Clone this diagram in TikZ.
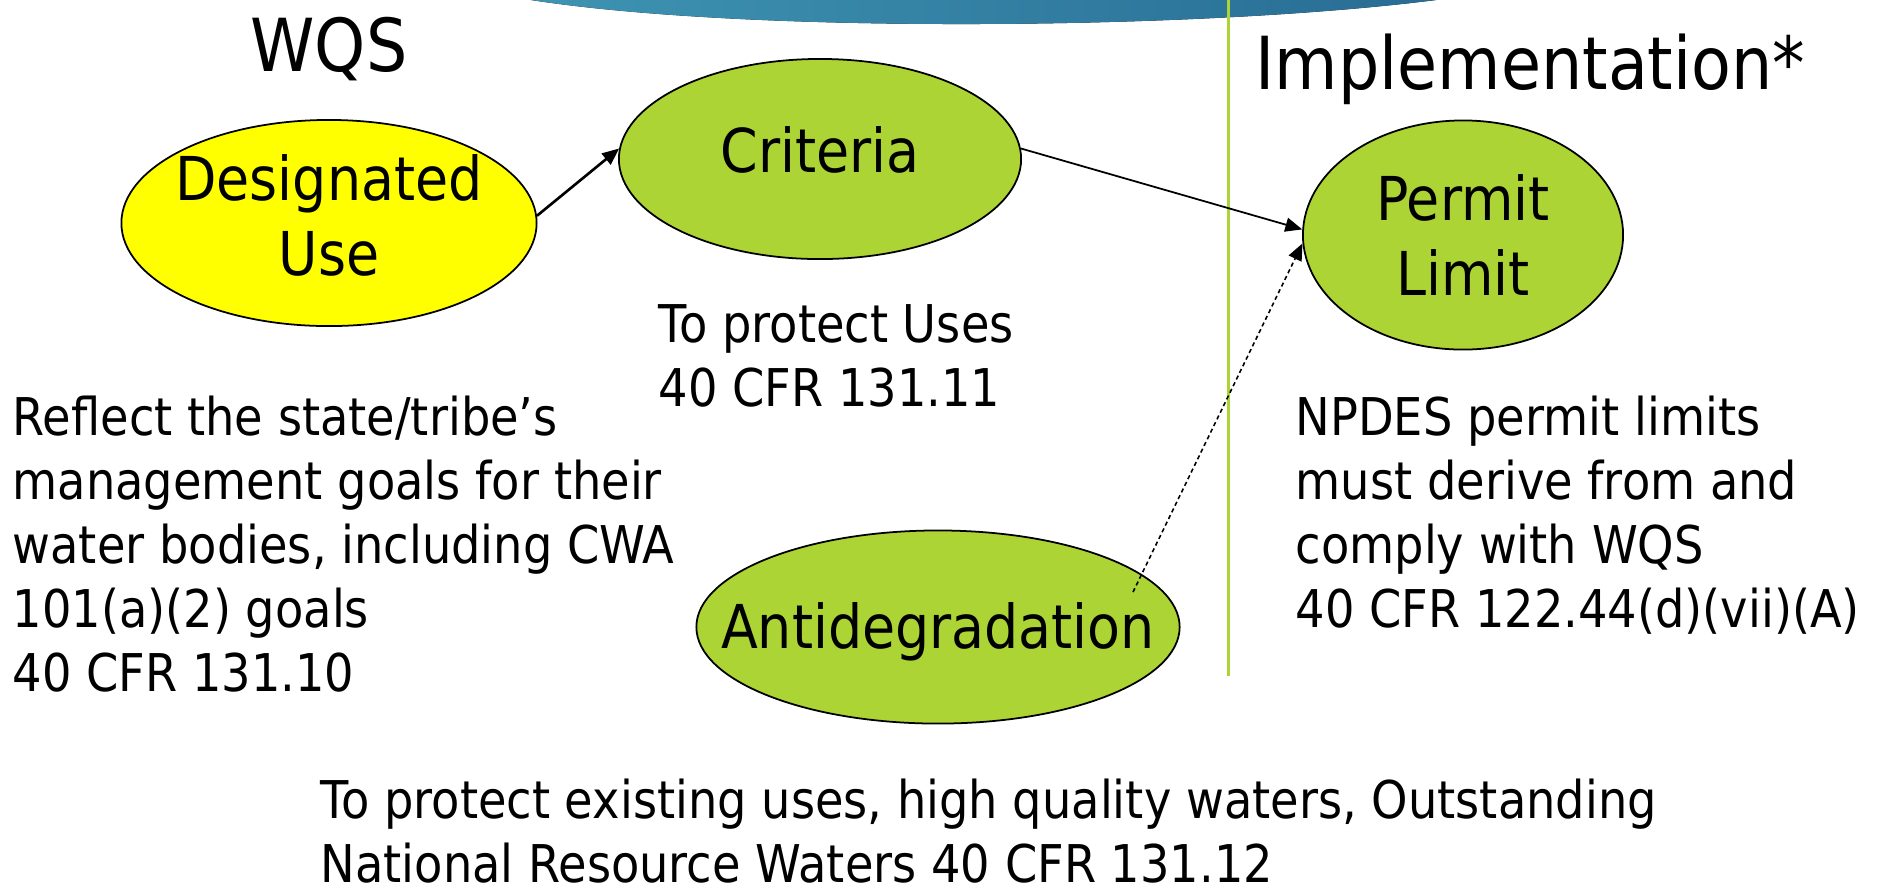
\documentclass[tikz,border=0pt]{standalone}
\usepackage{fontspec}
\setmainfont[FakeStretch=0.89]{DejaVu Sans}
\usetikzlibrary{shapes.geometric,arrows.meta}
\definecolor{leaf}{RGB}{172,212,52}
\definecolor{sun}{RGB}{255,255,0}
\definecolor{bandleft}{RGB}{62,148,178}
\definecolor{bandright}{RGB}{40,108,148}

\begin{document}
\begin{tikzpicture}[x=0.01cm,y=-0.01cm,
  bubble/.style={ellipse,draw=black,line width=0.5pt,fill=leaf,inner sep=0pt},
  intext/.style={align=center,inner sep=0pt,font=\fontsize{17.2}{21.3}\selectfont},
  note/.style={anchor=base west,align=left,inner sep=0pt,font=\fontsize{14.8}{18.2}\selectfont},
  head/.style={anchor=base,inner sep=0pt,font=\fontsize{20.8}{25}\selectfont},
  link/.style={-{Triangle[length=4.8pt,width=4pt]}}]
  \useasboundingbox (0,0) rectangle (1892,890);
  \fill[left color=bandleft,right color=bandright] (531,0) .. controls (750,34) and (1200,30) .. (1436,0) -- cycle;
  \draw[leaf,line width=0.85pt] (1228,0) -- (1228,676);
  \node[head] (wqs) at (329,71) {WQS};
  \node[head,anchor=base west] (impl) at (1255,89) {Implementation*};
  \node[bubble,fill=sun,minimum width=4.15cm,minimum height=2.06cm,
    label={[intext,yshift=0.08cm]center:Designated\\Use}] (use) at (329,223) {};
  \node[bubble,minimum width=4.02cm,minimum height=2cm,
    label={[intext,yshift=0.09cm]center:Criteria}] (crit) at (820,159) {};
  \node[bubble,minimum width=3.2cm,minimum height=2.29cm,
    label={[intext]center:Permit\\Limit}] (perm) at (1463,235) {};
  \node[bubble,minimum width=4.83cm,minimum height=1.93cm,
    label={[intext,yshift=-0.05cm]center:Antidegradation}] (anti) at (938,627) {};
  \node[note] (usenote) at (12,691) {Reflect the state/tribe’s\\management goals for their\\water bodies, including CWA\\101(a)(2) goals\\40 CFR 131.10};
  \node[note] (critnote) at (658,406) {To protect Uses\\40 CFR 131.11};
  \node[note] (permnote) at (1295,627) {NPDES permit limits\\must derive from and\\comply with WQS\\40 CFR 122.44(d)(vii)(A)};
  \node[note] (antinote) at (320,882) {To protect existing uses, high quality waters, Outstanding\\National Resource Waters 40 CFR 131.12};
  \coordinate (antistart) at (1133,592);
  \draw[link,line width=0.75pt] (use.2) -- (crit.177);
  \draw[link,line width=0.5pt] (crit.3) -- (perm.178);
  \draw[link,line width=0.45pt,dash pattern=on 1.2pt off 0.9pt] (antistart) -- (perm.183);
\end{tikzpicture}
\end{document}
